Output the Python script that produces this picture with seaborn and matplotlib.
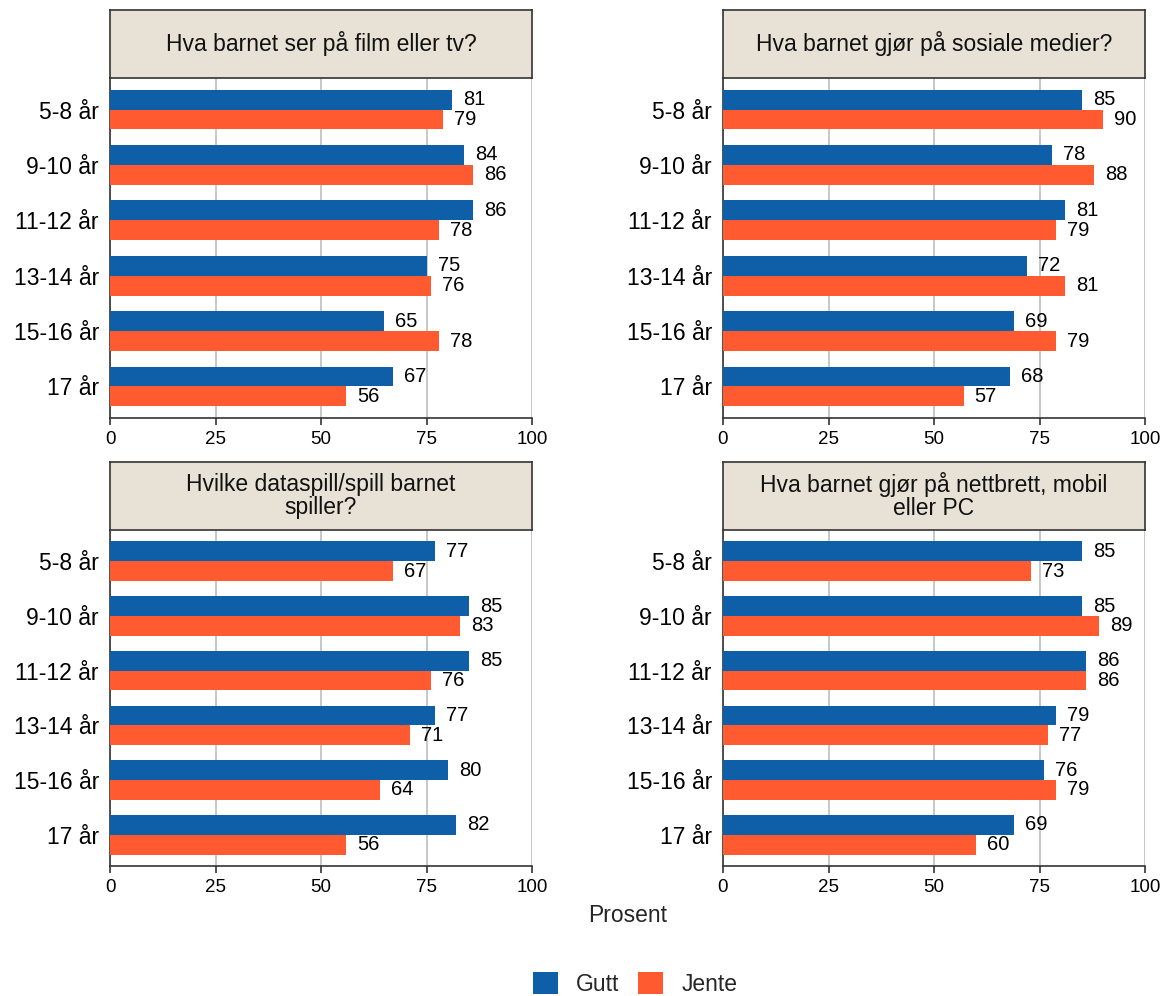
import pandas as pd
import seaborn as sns
import matplotlib.pyplot as plt
from matplotlib.patches import Patch

# Data
alder = ['5-8 år', '9-10 år', '11-12 år', '13-14 år', '15-16 år', '17 år']
titler = ['Hva barnet ser på film eller tv?',
          'Hva barnet gjør på sosiale medier?',
          'Hvilke dataspill/spill barnet\nspiller?',
          'Hva barnet gjør på nettbrett, mobil\neller PC']
gutt = [
    [81, 84, 86, 75, 65, 67],
    [85, 78, 81, 72, 69, 68],
    [77, 85, 85, 77, 80, 82],
    [85, 85, 86, 79, 76, 69],
]
jente = [
    [79, 86, 78, 76, 78, 56],
    [90, 88, 79, 81, 79, 57],
    [67, 83, 76, 71, 64, 56],
    [73, 89, 86, 77, 79, 60],
]
kjonn = ['Gutt', 'Jente']
farger = ['#0F5EA8', '#FF5A30']

sns.set_theme(style='white')
plt.rcParams['font.family'] = ['Liberation Sans', 'DejaVu Sans']

W, H = 1169, 996
fig = plt.figure(figsize=(W / 100, H / 100), dpi=100)

# pixel boxes: (left, top, right, bottom) of the plot area
boxes = [(110, 78, 532, 418), (723, 78, 1145, 418),
         (110, 530, 532, 866), (723, 530, 1145, 866)]
strip_h = 68

for i, (l, t, r, b) in enumerate(boxes):
    ax = fig.add_axes([l / W, 1 - b / H, (r - l) / W, (b - t) / H])
    df = pd.DataFrame({
        'alder': alder * 2,
        'prosent': gutt[i] + jente[i],
        'kjonn': ['Gutt'] * 6 + ['Jente'] * 6,
    })
    sns.barplot(data=df, x='prosent', y='alder', hue='kjonn', hue_order=kjonn,
                order=alder, orient='h', palette=farger, saturation=1,
                width=0.72, legend=False, ax=ax, zorder=3, linewidth=0)
    for cont, vals in zip(ax.containers, [gutt[i], jente[i]]):
        ax.bar_label(cont, labels=[str(v) for v in vals], padding=8,
                     fontsize=14.5, color='black')
    ax.set_xlim(0, 100)
    ax.set_ylim(5.57, -0.57)
    ax.set_xticks([0, 25, 50, 75, 100])
    ax.grid(axis='x', color='#C4C4C4', linewidth=1.3, zorder=0)
    ax.set_axisbelow(True)
    ax.set_xlabel('')
    ax.set_ylabel('')
    for s in ['top', 'right']:
        ax.spines[s].set_visible(False)
    for s in ['left', 'bottom']:
        ax.spines[s].set_color('#333333')
        ax.spines[s].set_linewidth(1.2)
    ax.tick_params(axis='x', length=5, width=1.2, color='#333333',
                   labelsize=13.5, labelcolor='black', pad=4, bottom=True)
    ax.tick_params(axis='y', length=0, labelsize=16.5, labelcolor='black',
                   pad=8, left=False)

    sax = fig.add_axes([l / W, 1 - t / H, (r - l) / W, strip_h / H])
    sax.set_facecolor('#E8E2D6')
    sax.set_xticks([])
    sax.set_yticks([])
    for s in sax.spines.values():
        s.set_color('#333333')
        s.set_linewidth(1.2)
    sax.text(0.5, 0.5, titler[i], ha='center', va='center', fontsize=16.5,
             color='#111111', transform=sax.transAxes, linespacing=1.0)

fig.text(628 / W, 1 - 915 / H, 'Prosent', ha='center', va='center', fontsize=16.5)

handles = [Patch(facecolor=c, edgecolor='none') for c in farger]
fig.legend(handles, kjonn, loc='center', bbox_to_anchor=(635 / W, 1 - 984 / H),
           ncol=2, frameon=False, fontsize=16.5, handlelength=1.1,
           handleheight=1.1, columnspacing=0.8, handletextpad=0.8)

fig.savefig('out.png', dpi=100)
